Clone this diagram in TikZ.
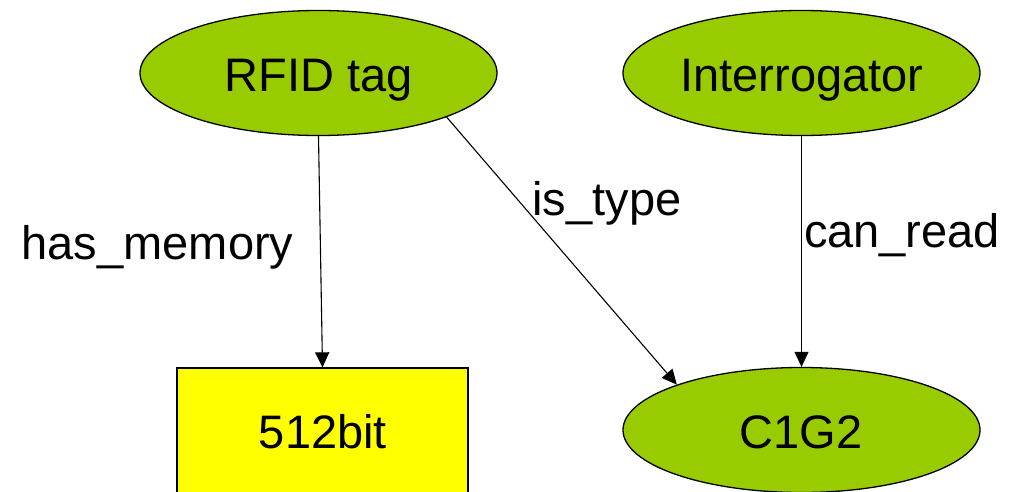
\documentclass[tikz,border=0pt]{standalone}
\usepackage{fontspec}
\setmainfont{Liberation Sans}
\usetikzlibrary{shapes.geometric,arrows.meta}
\definecolor{nodegreen}{HTML}{99CC00}
\definecolor{boxyellow}{HTML}{FFFF00}
\begin{document}
\begin{tikzpicture}[x=1pt,y=-1pt,
  concept/.style={ellipse,draw=black,line width=1.3pt,fill=nodegreen,inner sep=0pt,minimum width=357pt,minimum height=125pt},
  valuebox/.style={rectangle,draw=black,line width=1.3pt,fill=boxyellow,inner sep=0pt,minimum width=291pt,minimum height=128pt},
  txt/.style={font=\fontsize{47pt}{56pt}\selectfont,anchor=base,inner sep=0pt},
  rel/.style={draw=black,line width=1.1pt,-{Triangle[length=15pt,width=14pt]}}]
\useasboundingbox (0,0) rectangle (1020,492);
\clip (0,0) rectangle (1020,492);
\node[concept] (rfid) at (318.5,73) {};
\node[concept] (inter) at (801.5,73) {};
\node[concept] (c1g2) at (801.5,430) {};
\node[valuebox] (mem) at (322.5,432) {};
\node[txt] (trfid) at (319,92) {RFID tag};
\node[txt] (tinter) at (802,92) {Interrogator};
\node[txt] (tc1g2) at (801,448) {C1G2};
\node[txt] (tmem) at (323,448) {512bit};
\draw[rel] (rfid.south) -- (mem.north);
\draw[rel] (rfid.-19.4) -- (c1g2.160.4);
\draw[rel] (inter.south) -- (c1g2.north);
\node[txt] (lmem) at (157.5,259) {has\_memory};
\node[txt] (ltype) at (607,215) {is\_type};
\node[txt] (lread) at (902,247) {can\_read};
\end{tikzpicture}
\end{document}
